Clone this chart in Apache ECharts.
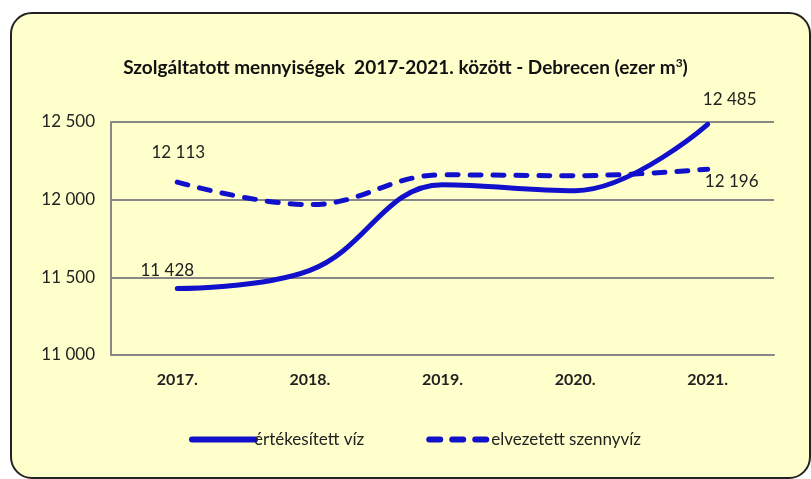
<!DOCTYPE html>
<html>
<head>
<meta charset="utf-8">
<script src="https://cdn.jsdelivr.net/npm/echarts@6/dist/echarts.min.js"></script>
<style>
  html, body { margin: 0; padding: 0; background: #fff; }
  .frame {
    position: absolute;
    left: 10px;
    top: 12px;
    width: 801px;
    height: 467px;
    box-sizing: border-box;
    border: 2px solid #222;
    border-radius: 22px;
    background: #ffffcc;
  }
  #chart { position: absolute; left: 0; top: 0; width: 811px; height: 479px; }
</style>
</head>
<body>
<div class="frame"></div>
<div id="chart"></div>
<script>
  const years = ['2017.', '2018.', '2019.', '2020.', '2021.']
  const soldWater = [11428, 11545, 12096, 12058, 12485]
  const wasteWater = [12113, 11968, 12160, 12154, 12196]
  const yTicks = [11000, 11500, 12000, 12500]

  const blue = '#1111cc'
  const fmt = (v) => String(v).replace(/\B(?=(\d{3})+(?!\d))/g, ' ')
  const font = 'Lato, "Open Sans", sans-serif'

  // csak a végpontok kapnak feliratot
  const withLabels = (arr, first, last) =>
    arr.map((v, i) => {
      if (i === 0) return { value: v, label: Object.assign({ show: true }, first) }
      if (i === arr.length - 1) return { value: v, label: Object.assign({ show: true }, last) }
      return v
    })

  const labelText = { color: '#222', fontSize: 17, fontFamily: font, formatter: (p) => fmt(p.value) }

  const myChart = echarts.init(document.getElementById('chart'))
  const option = {
    backgroundColor: 'transparent',
    title: {
      text: 'Szolgáltatott mennyiségek  2017-2021. között - Debrecen (ezer m{sup|3})',
      left: 'center',
      top: 52,
      textStyle: {
        fontSize: 19,
        fontWeight: 'bold',
        color: '#111',
        fontFamily: font,
        rich: {
          sup: { fontSize: 12, fontWeight: 'bold', color: '#111', fontFamily: font, verticalAlign: 'top', padding: [0, 0, 10, 0] }
        }
      }
    },
    grid: { left: 111, right: 37, top: 122, bottom: 124 },
    legend: {
      left: 184,
      top: 426,
      itemWidth: 63,
      itemHeight: 8,
      itemGap: 62,
      itemStyle: { color: 'transparent', borderWidth: 0 },
      lineStyle: { width: 6, cap: 'round' },
      textStyle: { color: '#222', fontSize: 17, fontFamily: font, padding: [0, 0, 0, -6] },
      data: ['értékesített víz', 'elvezetett szennyvíz']
    },
    xAxis: {
      type: 'category',
      data: years,
      boundaryGap: true,
      axisLine: { lineStyle: { color: '#888', width: 2 } },
      axisTick: { show: false },
      axisLabel: { color: '#222', fontSize: 16, fontWeight: 'bold', fontFamily: font, margin: 17 }
    },
    yAxis: {
      type: 'value',
      min: yTicks[0],
      max: yTicks[yTicks.length - 1],
      interval: 500,
      axisLine: { show: true, lineStyle: { color: '#888', width: 2 } },
      axisTick: { show: false },
      splitLine: { lineStyle: { color: '#888', width: 2 } },
      axisLabel: { color: '#222', fontSize: 17, fontFamily: font, margin: 16, formatter: fmt }
    },
    series: [
      {
        name: 'értékesített víz',
        type: 'line',
        smooth: 0.4,
        symbol: 'circle',
        symbolSize: 1,
        showAllSymbol: true,
        itemStyle: { color: 'transparent', borderWidth: 0 },
        lineStyle: { color: blue, width: 5, cap: 'round' },
        data: withLabels(soldWater,
          Object.assign({ position: 'top', offset: [-10, -4] }, labelText),
          Object.assign({ position: 'top', offset: [22, -11] }, labelText)),
        z: 3
      },
      {
        name: 'elvezetett szennyvíz',
        type: 'line',
        smooth: 0.4,
        symbol: 'circle',
        symbolSize: 1,
        showAllSymbol: true,
        itemStyle: { color: 'transparent', borderWidth: 0 },
        lineStyle: { color: blue, width: 5, type: [11, 12], cap: 'round' },
        data: withLabels(wasteWater,
          Object.assign({ position: 'top', offset: [1, -16] }, labelText),
          Object.assign({ position: 'bottom', offset: [24, -2] }, labelText)),
        z: 2
      }
    ]
  }
  myChart.setOption(option)
</script>
</body>
</html>
